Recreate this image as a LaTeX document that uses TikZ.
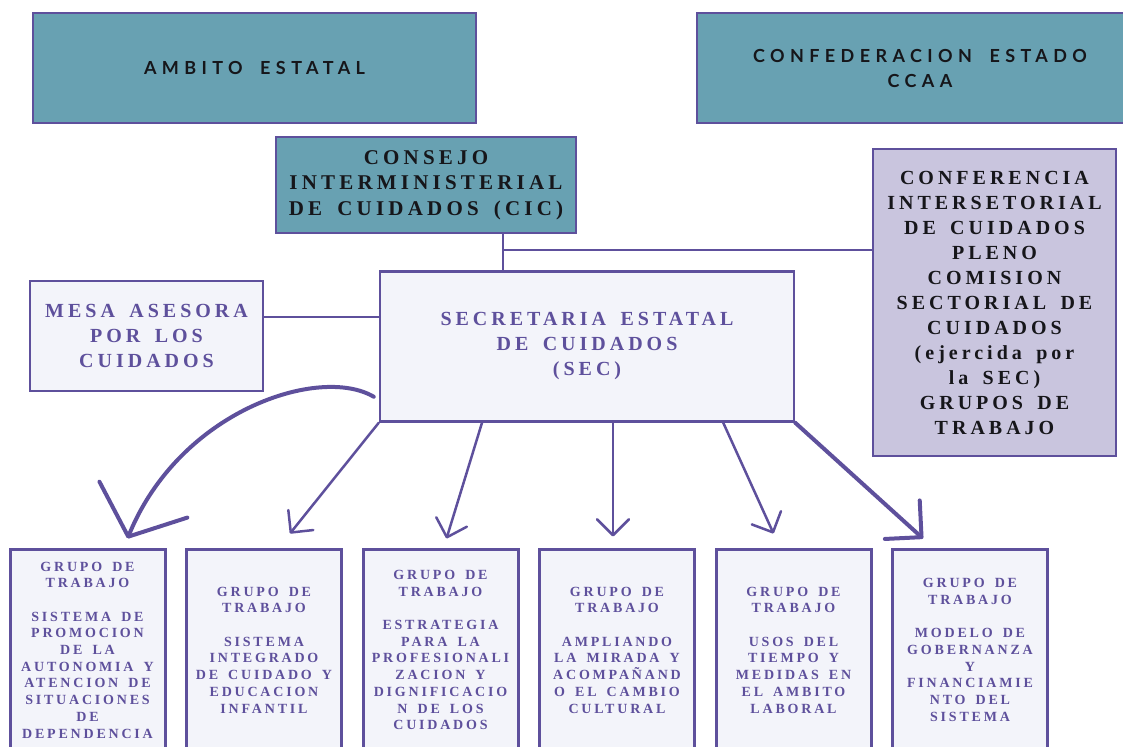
\documentclass[tikz,border=0pt]{standalone}
\usepackage{fontspec}
\usetikzlibrary{arrows.meta}
\newfontfamily\cuidadosserif[LetterSpace=20,WordSpace=2]{Liberation Serif}
\newfontfamily\cuidadosgrupo[LetterSpace=20,WordSpace=1.6]{Liberation Serif}
\newfontfamily\cuidadossans[LetterSpace=30,WordSpace=1.8]{Lato}
\definecolor{cuidadosteal}{RGB}{104,161,178}
\definecolor{cuidadoslila}{RGB}{201,197,222}
\definecolor{cuidadosfondo}{RGB}{243,244,250}
\definecolor{cuidadosmorado}{RGB}{94,80,156}
\definecolor{cuidadostinta}{RGB}{22,22,26}
\tikzset{
  caja/.style={draw=cuidadosmorado,line width=2.5pt,inner sep=0pt,align=center},
  ambito/.style={caja,fill=cuidadosteal,minimum height=110pt,
    font=\cuidadossans\bfseries\fontsize{18}{25}\selectfont,text=cuidadostinta},
  consejo/.style={caja,fill=cuidadosteal,
    font=\cuidadosserif\bfseries\fontsize{21}{25.5}\selectfont,text=cuidadostinta},
  conferencia/.style={caja,fill=cuidadoslila,
    font=\cuidadosserif\bfseries\fontsize{20}{25}\selectfont,text=cuidadostinta},
  secretaria/.style={caja,fill=cuidadosfondo,
    font=\cuidadosserif\bfseries\fontsize{20}{25}\selectfont,text=cuidadosmorado},
  grupo/.style={caja,fill=cuidadosfondo,line width=3pt,minimum width=155pt,
    minimum height=202pt,
    font=\cuidadosgrupo\bfseries\fontsize{14}{16.7}\selectfont,text=cuidadosmorado},
  flecha/.style={draw=cuidadosmorado,line width=2.5pt,line cap=round,
    -{Straight Barb[length=16pt,width=32pt,round]}},
  flechagorda/.style={flecha,line width=4pt},
}
\begin{document}
\begin{tikzpicture}[x=1pt,y=-1pt]
\useasboundingbox (0,0) rectangle (1123,746);
\clip (0,0) rectangle (1123,746);

% cabecera
\node [ambito,minimum width=443pt] (ambito) at (254.5,68) {AMBITO ESTATAL};
\node [ambito,minimum width=446pt] (confed) at (920,68) {CONFEDERACION ESTADO\\CCAA};

\node [consejo,minimum width=300pt,minimum height=96pt] (cic) at (426,185)
{CONSEJO\\INTERMINISTERIAL\\DE CUIDADOS (CIC)};

\node [conferencia,minimum width=243pt,minimum height=307pt] (conf) at (994.5,302.5)
{CONFERENCIA\\INTERSETORIAL\\DE CUIDADOS\\PLENO\\COMISION\\SECTORIAL DE\\CUIDADOS\\(ejercida por\\la SEC)\\GRUPOS DE\\TRABAJO};

\node [secretaria,minimum width=414pt,minimum height=150pt] (sec) at (587,346.5)
{SECRETARIA ESTATAL\\DE CUIDADOS\\(SEC)};

\node [secretaria,minimum width=233pt,minimum height=110pt] (mesa) at (146.5,336)
{MESA ASESORA\\POR LOS\\CUIDADOS};

% grupos de trabajo
\node [grupo] (g1) at (87.5,650)
{GRUPO DE\\TRABAJO\\[16.7pt]SISTEMA DE\\PROMOCION\\DE LA\\AUTONOMIA Y\\ATENCION DE\\SITUACIONES\\DE\\DEPENDENCIA};
\node [grupo] (g2) at (264,650)
{GRUPO DE\\TRABAJO\\[16.7pt]SISTEMA\\INTEGRADO\\DE CUIDADO Y\\EDUCACION\\INFANTIL};
\node [grupo] (g3) at (440.5,650)
{GRUPO DE\\TRABAJO\\[16.7pt]ESTRATEGIA\\PARA LA\\PROFESIONALI\\ZACION Y\\DIGNIFICACIO\\N DE LOS\\CUIDADOS};
\node [grupo] (g4) at (617,650)
{GRUPO DE\\TRABAJO\\[16.7pt]AMPLIANDO\\LA MIRADA Y\\ACOMPAÑAND\\O EL CAMBIO\\CULTURAL};
\node [grupo] (g5) at (793.5,650)
{GRUPO DE\\TRABAJO\\[16.7pt]USOS DEL\\TIEMPO Y\\MEDIDAS EN\\EL AMBITO\\LABORAL};
\node [grupo] (g6) at (970,650)
{GRUPO DE\\TRABAJO\\[16.7pt]MODELO DE\\GOBERNANZA\\Y\\FINANCIAMIE\\NTO DEL\\SISTEMA};

% uniones
\coordinate (enlace) at (503,250);
\draw [cuidadosmorado,line width=2.5pt] (cic.south -| enlace) -- (sec.north -| enlace);
\draw [cuidadosmorado,line width=2.5pt] (enlace) -- (enlace -| conf.west);
\draw [cuidadosmorado,line width=2.5pt] ([yshift=19pt]mesa.east) -- ([yshift=19pt]mesa.east -| sec.west);

% flechas
\draw [flechagorda,-{Straight Barb[length=40pt,width=95pt,round]}]
  ([xshift=-5pt,yshift=26pt]sec.south west) .. controls (320,365) and (180,410) .. ([xshift=40pt,yshift=9pt]g1.north);
\draw [flecha] (sec.south west) -- ([xshift=26pt,yshift=14pt]g2.north);
\draw [flecha] ([xshift=-105pt]sec.south) -- ([xshift=6pt,yshift=9pt]g3.north);
\draw [flecha] ([xshift=26pt]sec.south) -- ([xshift=-4pt,yshift=11pt]g4.north);
\draw [flecha] ([xshift=-72pt]sec.south east) -- ([xshift=-20pt,yshift=14pt]g5.north);
\draw [flechagorda,-{Straight Barb[length=26pt,width=52pt,round]}]
  (sec.south east) -- ([xshift=-47pt,yshift=9pt]g6.north);
\end{tikzpicture}
\end{document}
